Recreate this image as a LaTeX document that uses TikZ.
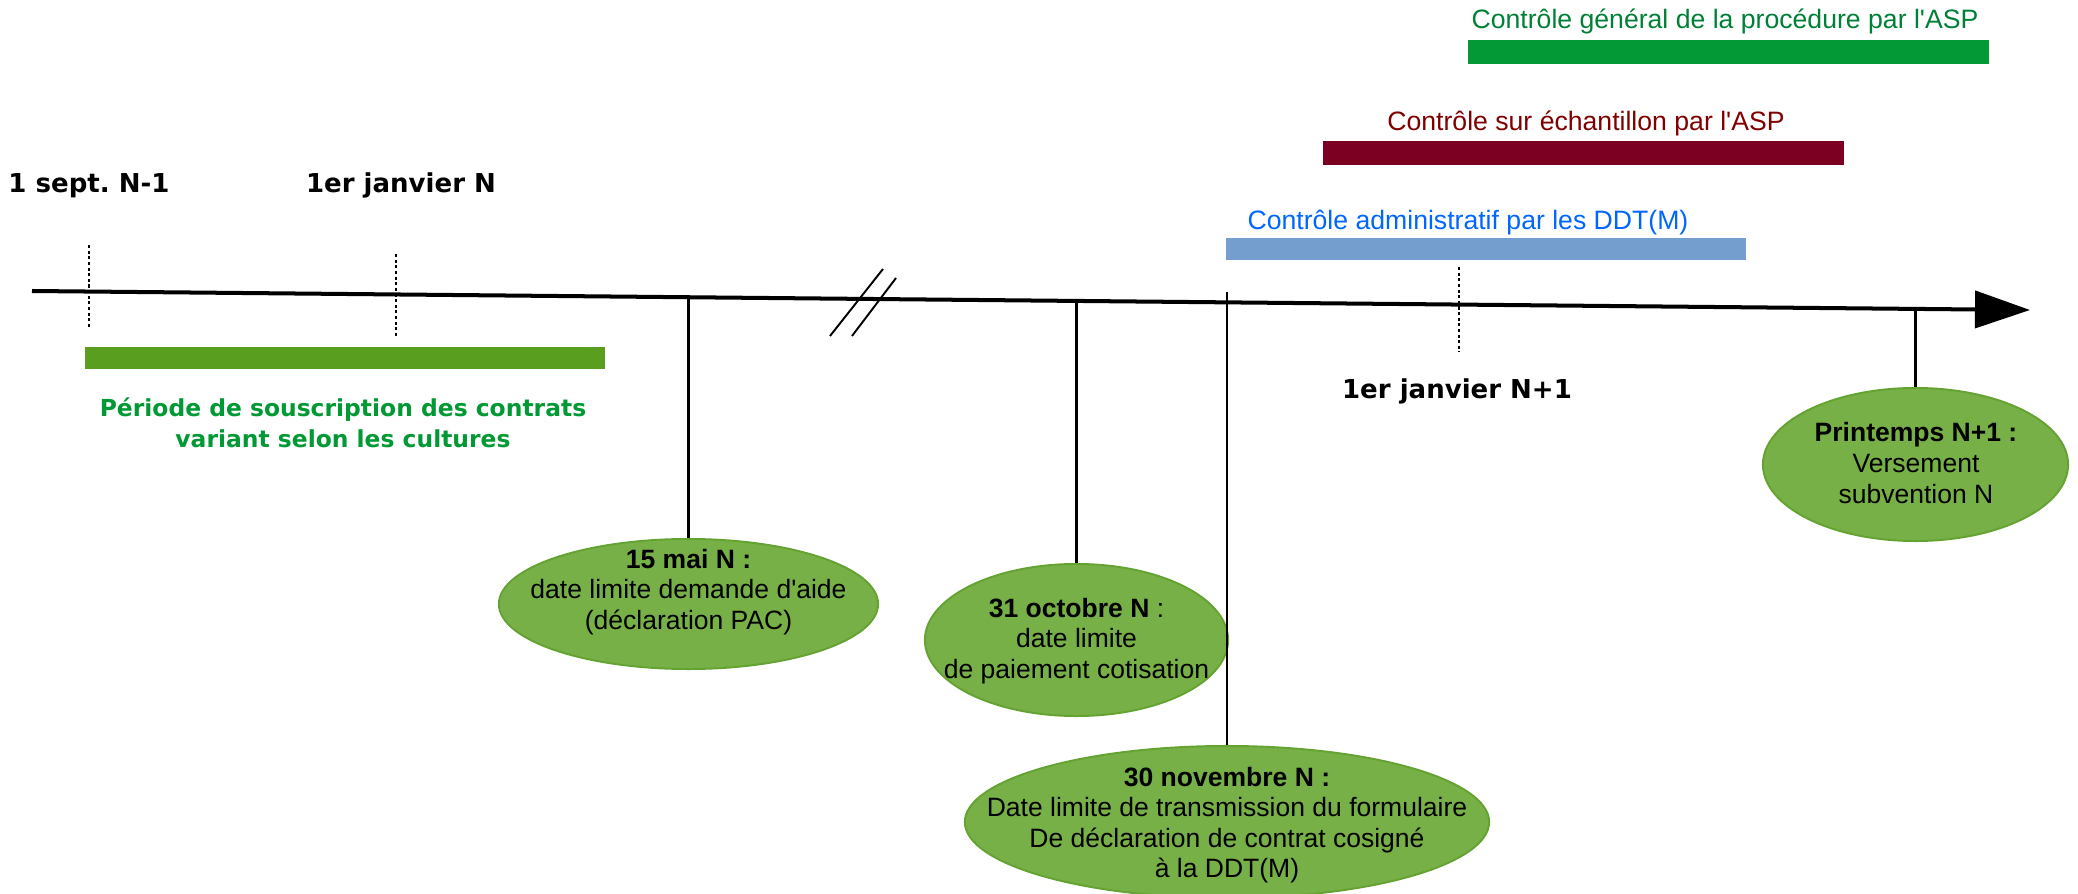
\documentclass[tikz,border=0pt]{standalone}
\usepackage{fontspec}
\setmainfont{Liberation Sans}[Ligatures=TeXOff]
\newfontfamily\verd{DejaVu Sans}
\usetikzlibrary{shapes.geometric,arrows.meta}
\definecolor{barGeneral}{RGB}{4,153,55}
\definecolor{txtGeneral}{RGB}{0,128,55}
\definecolor{barEchant}{RGB}{123,0,34}
\definecolor{txtEchant}{RGB}{128,0,0}
\definecolor{barAdmin}{RGB}{115,158,206}
\definecolor{txtAdmin}{RGB}{0,102,255}
\definecolor{barSousc}{RGB}{89,158,31}
\definecolor{txtSousc}{RGB}{0,153,51}
\definecolor{fondJalon}{RGB}{119,176,70}
\definecolor{bordJalon}{RGB}{100,163,50}
\frenchspacing
\begin{document}
\begin{tikzpicture}[x=0.01cm,y=-0.01cm,
    jalon/.style={ellipse,draw=bordJalon,fill=fondJalon,line width=0.55pt,inner sep=0pt},
    txtjalon/.style={align=center,inner sep=0pt,font=\fontsize{7.54}{8.68}\selectfont},
    datebold/.style={inner sep=0pt,anchor=base,font=\verd\bfseries\fontsize{7.4}{8.8}\selectfont},
    controle/.style={inner sep=0pt,anchor=base,font=\fontsize{7.57}{9}\selectfont},
    tige/.style={line width=0.65pt,black},
    pointille/.style={line width=0.45pt,dash pattern=on 0.9pt off 0.7pt}]
\useasboundingbox (0,0) rectangle (2078,894);

    %Barres de controle
    \fill[barGeneral] (1468,40) rectangle (1989,64);
    \node[controle,text=txtGeneral] (general) at (1725,29) {Contrôle général de la procédure par l'ASP};
    \fill[barEchant] (1323,141) rectangle (1844,165);
    \node[controle,text=txtEchant] (echant) at (1586,131) {Contrôle sur échantillon par l'ASP};
    \fill[barAdmin] (1226,238) rectangle (1746,260);
    \node[controle,text=txtAdmin] (admin) at (1468,230) {Contrôle administratif par les DDT(M)};

    %Axe du temps
    \coordinate (debut) at (32,291);
    \coordinate (fin) at (2030,310);
    \draw[line width=1.14pt,-{Triangle[length=0.55cm,width=0.37cm]}] (debut) -- (fin);
    \draw[line width=0.55pt] (830,336) -- (883,269) (852,336) -- (896,278);

    %Reperes
    \draw[pointille] (89,245) -- (89,328);
    \draw[pointille] (396,254) -- (396,338);
    \draw[pointille] (1459,267) -- (1459,352);
    \node[datebold] (sept) at (89,193) {1 sept. N-1};
    \node[datebold] (janvN) at (401,193) {1er janvier N};
    \node[datebold] (janvNplus) at (1457,398) {1er janvier N+1};

    %Souscription
    \fill[barSousc] (85,347) rectangle (605,369);
    \node[align=center,inner sep=0pt,text=txtSousc,font=\verd\bfseries\fontsize{6.66}{8.82}\selectfont] (sousc) at (343,423) {Période de souscription des contrats\\variant selon les cultures};

    %Jalons
    \node[jalon,minimum width=3.79cm,minimum height=1.30cm] (mai) at (688.5,604) {};
    \node[txtjalon] (maiTxt) at (688.5,592) {\textbf{15 mai N :}\\date limite demande d'aide\\(déclaration PAC)};
    \coordinate (tMai) at (688.5,297);
    \draw[tige] (tMai) -- (mai.north);

    \node[jalon,minimum width=3.03cm,minimum height=1.52cm] (oct) at (1076.5,640) {};
    \node[txtjalon] (octTxt) at (1076.5,641) {\textbf{31 octobre N} :\\date limite\\de paiement cotisation};
    \coordinate (tOct) at (1076.5,301);
    \draw[tige] (tOct) -- (oct.north);

    \node[jalon,minimum width=5.24cm,minimum height=1.52cm] (nov) at (1227,822) {};
    \node[txtjalon] (novTxt) at (1227,825) {\textbf{30 novembre N :}\\Date limite de transmission du formulaire\\De déclaration de contrat cosigné\\à la DDT(M)};
    \coordinate (tNov) at (1227,292);
    \draw[tige] (tNov) -- (nov.north);

    \node[jalon,minimum width=3.05cm,minimum height=1.53cm] (printemps) at (1915.5,464.5) {};
    \node[txtjalon] (printempsTxt) at (1916,463) {\textbf{Printemps N+1 :}\\Versement\\subvention N};
    \coordinate (tPrintemps) at (1915.5,309);
    \draw[tige] (tPrintemps) -- (printemps.north);
\end{tikzpicture}
\end{document}
